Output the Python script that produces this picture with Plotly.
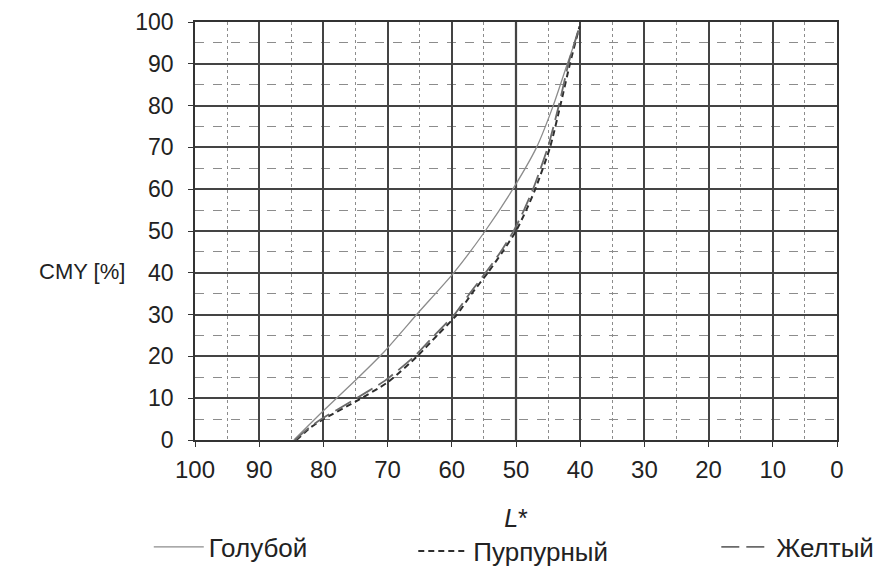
import plotly.graph_objects as go

# Data (L* on x, CMY % on y)
cyan_L = [84.6, 80.0, 75.0, 70.6, 65.2, 59.7, 54.8, 50.5, 46.8, 44.2, 42.0, 40.2]
cyan_cmy = [0, 7, 14.3, 21, 30.5, 40, 50, 60, 70, 80, 90, 98]
magenta_L = [84.2, 82.0, 80.0, 75.0, 70.0, 65.4, 62.3, 59.2, 56.9, 54.4, 52.1, 50.0, 48.4, 47.0, 44.7, 43.1, 41.6, 40.1]
magenta_cmy = [0, 3, 5, 9.2, 13.8, 20, 25, 30, 35, 40, 45, 50, 55, 60, 70, 80, 90, 99]
yellow_L = [84.4, 82.2, 80.3, 75.4, 70.4, 65.7, 62.6, 59.5, 57.1, 54.6, 52.3, 50.3, 48.7, 47.3, 45.0, 43.3, 41.8, 40.0]
yellow_cmy = [0, 3, 5, 9.5, 14.2, 20.2, 25.2, 30.2, 35.3, 40.3, 45.2, 50.2, 55.2, 60.2, 70.2, 80.2, 90.2, 99.5]
series_names = ["Голубой", "Пурпурный", "Желтый"]
x_ticks = [100, 90, 80, 70, 60, 50, 40, 30, 20, 10, 0]
y_ticks = [0, 10, 20, 30, 40, 50, 60, 70, 80, 90, 100]

fig = go.Figure()
fig.add_trace(go.Scatter(x=cyan_L, y=cyan_cmy, mode="lines", name=series_names[0], legend="legend",
                         line=dict(color="#8c8c8c", width=1.3, shape="spline", smoothing=0.6)))
fig.add_trace(go.Scatter(x=magenta_L, y=magenta_cmy, mode="lines", name=series_names[1], legend="legend2",
                         line=dict(color="#2e2e2e", width=2, dash="6px,4px", shape="spline", smoothing=0.6)))
fig.add_trace(go.Scatter(x=yellow_L, y=yellow_cmy, mode="lines", name=series_names[2], legend="legend3",
                         line=dict(color="#6a6a6a", width=1.8, dash="18px,7px", shape="spline", smoothing=0.6)))

leg_font = dict(family="Liberation Sans, Arial, sans-serif", size=26, color="#222222")
leg_common = dict(orientation="h", xanchor="left", yanchor="middle", itemwidth=50,
                  font=leg_font, bgcolor="rgba(0,0,0,0)", borderwidth=0)

# The page adds an 8px body margin at the top/left, so the figure is 8px smaller than the window
fig.update_layout(
    width=878, height=560,
    margin=dict(l=187, r=49, t=14, b=128, autoexpand=False),
    paper_bgcolor="white", plot_bgcolor="white",
    font=dict(family="Liberation Sans, Arial, sans-serif", color="#222222"),
    showlegend=True,
    legend=dict(x=-0.072, y=-0.256, **leg_common),
    legend2=dict(x=0.34, y=-0.266, **leg_common),
    legend3=dict(x=0.812, y=-0.256, **leg_common),
    annotations=[dict(text="CMY [%]", xref="paper", yref="paper", x=-0.176, y=0.402,
                      xanchor="center", yanchor="middle", showarrow=False,
                      font=dict(family="Liberation Sans, Arial", size=22, color="#222222"))],
)
fig.add_vline(x=50, line_width=2.2, line_color="#222222", layer="below")
fig.update_xaxes(
    range=[100, 0], tickvals=x_ticks, ticktext=[str(v) for v in x_ticks],
    automargin=False,
    showgrid=True, gridcolor="#444444", gridwidth=1.6,
    minor=dict(dtick=5, tick0=0, showgrid=True, gridcolor="#8c8c8c", griddash="dot", gridwidth=1.2),
    showline=True, linecolor="#333333", linewidth=1.6, mirror=True,
    ticks="outside", ticklen=5, tickcolor="#333333",
    tickfont=dict(family="Liberation Sans, Arial", size=24, color="#222222"),
    ticklabelstandoff=2,
    title=dict(text="<i>L</i>*", font=dict(family="Liberation Sans, Arial", size=25, color="#222222"), standoff=28),
    zeroline=False,
)
fig.update_yaxes(
    range=[0, 100], tickvals=y_ticks,
    automargin=False,
    showgrid=True, gridcolor="#444444", gridwidth=1.6,
    minor=dict(dtick=5, tick0=0, showgrid=True, gridcolor="#8c8c8c", griddash="dash", gridwidth=1.2),
    showline=True, linecolor="#333333", linewidth=1.6, mirror=True,
    ticks="outside", ticklen=5, tickcolor="#333333",
    tickfont=dict(family="Liberation Sans, Arial", size=23, color="#222222"),
    ticklabelstandoff=10,
    zeroline=False,
)

fig.write_html("out.html")
